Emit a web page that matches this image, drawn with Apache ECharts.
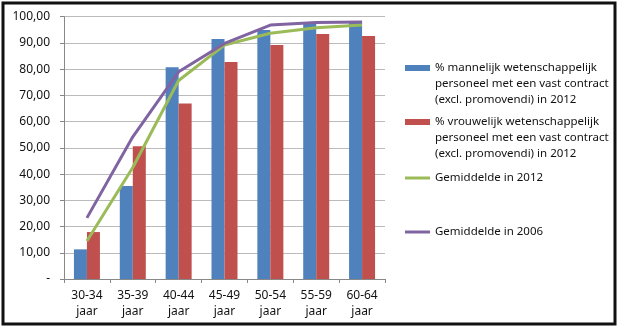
<!DOCTYPE html>
<html>
<head>
<meta charset="utf-8">
<script src="https://cdn.jsdelivr.net/npm/echarts@6/dist/echarts.min.js"></script>
<style>
html,body{margin:0;padding:0;background:#fff;}
#c{width:640px;height:334px;}
</style>
</head>
<body>
<div id="c"></div>
<script>
const categories = ['30-34\njaar','35-39\njaar','40-44\njaar','45-49\njaar','50-54\njaar','55-59\njaar','60-64\njaar'];
const maleValues = [11.3, 35.5, 80.7, 91.5, 94.9, 97.7, 98.1];
const femaleValues = [17.9, 50.6, 66.9, 82.7, 89.2, 93.4, 92.6];
const avg2012 = [14.5, 42.5, 75.7, 89.2, 93.7, 95.8, 96.8];
const avg2006 = [23.3, 54.2, 79.0, 89.8, 96.8, 97.8, 98.0];
const yTicks = [0,10,20,30,40,50,60,70,80,90,100];
const yTickLabels = ['-','10,00','20,00','30,00','40,00','50,00','60,00','70,00','80,00','90,00','100,00'];
const seriesNames = [
  '% mannelijk wetenschappelijk\npersoneel met een vast contract\n(excl. promovendi) in 2012',
  '% vrouwelijk wetenschappelijk\npersoneel met een vast contract\n(excl. promovendi) in 2012',
  'Gemiddelde in 2012',
  'Gemiddelde in 2006'
];

const FONT = 'Noto Sans';
const chart = echarts.init(document.getElementById('c'));
const legendText = {fontFamily: FONT, fontSize: 11.5, color: '#111', lineHeight: 16};
function mkLegend(name, top, multi, isLine){
  return {
    data: [{name: name, icon: 'rect'}],
    left: 405, top: top, padding: 0,
    itemWidth: 25, itemHeight: isLine ? 3 : 6, itemGap: 0,
    selectedMode: false,
    formatter: multi ? (n => '\n\n' + n) : undefined,
    textStyle: legendText
  };
}
chart.setOption({
  animation: false,
  backgroundColor: '#fff',
  graphic: [{type:'rect', shape:{x:3, y:3, width:612, height:321}, style:{fill:'none', stroke:'#111', lineWidth:3}, z: 100}],
  grid: {left: 64, right: 255, top: 16.7, bottom: 55},
  legend: [
    mkLegend(seriesNames[0], 28, true, false),
    mkLegend(seriesNames[1], 82, true, false),
    mkLegend(seriesNames[2], 170, false, true),
    mkLegend(seriesNames[3], 224, false, true)
  ],
  xAxis: {
    type: 'category', data: categories,
    axisLine: {lineStyle: {color: '#888'}},
    axisTick: {show: true, length: 4, lineStyle: {color: '#888'}},
    axisLabel: {fontFamily: FONT, fontSize: 12, color: '#111', lineHeight: 16, margin: 9}
  },
  yAxis: {
    type: 'value', min: 0, max: 100, interval: 10,
    axisLine: {show: true, lineStyle: {color: '#888'}},
    axisTick: {show: true, length: 4, lineStyle: {color: '#888'}},
    splitLine: {lineStyle: {color: '#bbb'}},
    axisLabel: {fontFamily: FONT, fontSize: 12, color: '#111', margin: 14,
      formatter: v => yTickLabels[yTicks.indexOf(v)]}
  },
  series: [
    {name: seriesNames[0], type: 'bar', data: maleValues, barWidth: 13, barGap: '0%', itemStyle: {color: '#4F81BD'}},
    {name: seriesNames[1], type: 'bar', data: femaleValues, barWidth: 13, barGap: '0%', itemStyle: {color: '#C0504D'}},
    {name: seriesNames[2], type: 'line', data: avg2012, symbol: 'none', lineStyle: {color: '#9BBB59', width: 3}, itemStyle:{color:'#9BBB59'}},
    {name: seriesNames[3], type: 'line', data: avg2006, symbol: 'none', lineStyle: {color: '#8064A2', width: 3}, itemStyle:{color:'#8064A2'}}
  ]
});
</script>
</body>
</html>
